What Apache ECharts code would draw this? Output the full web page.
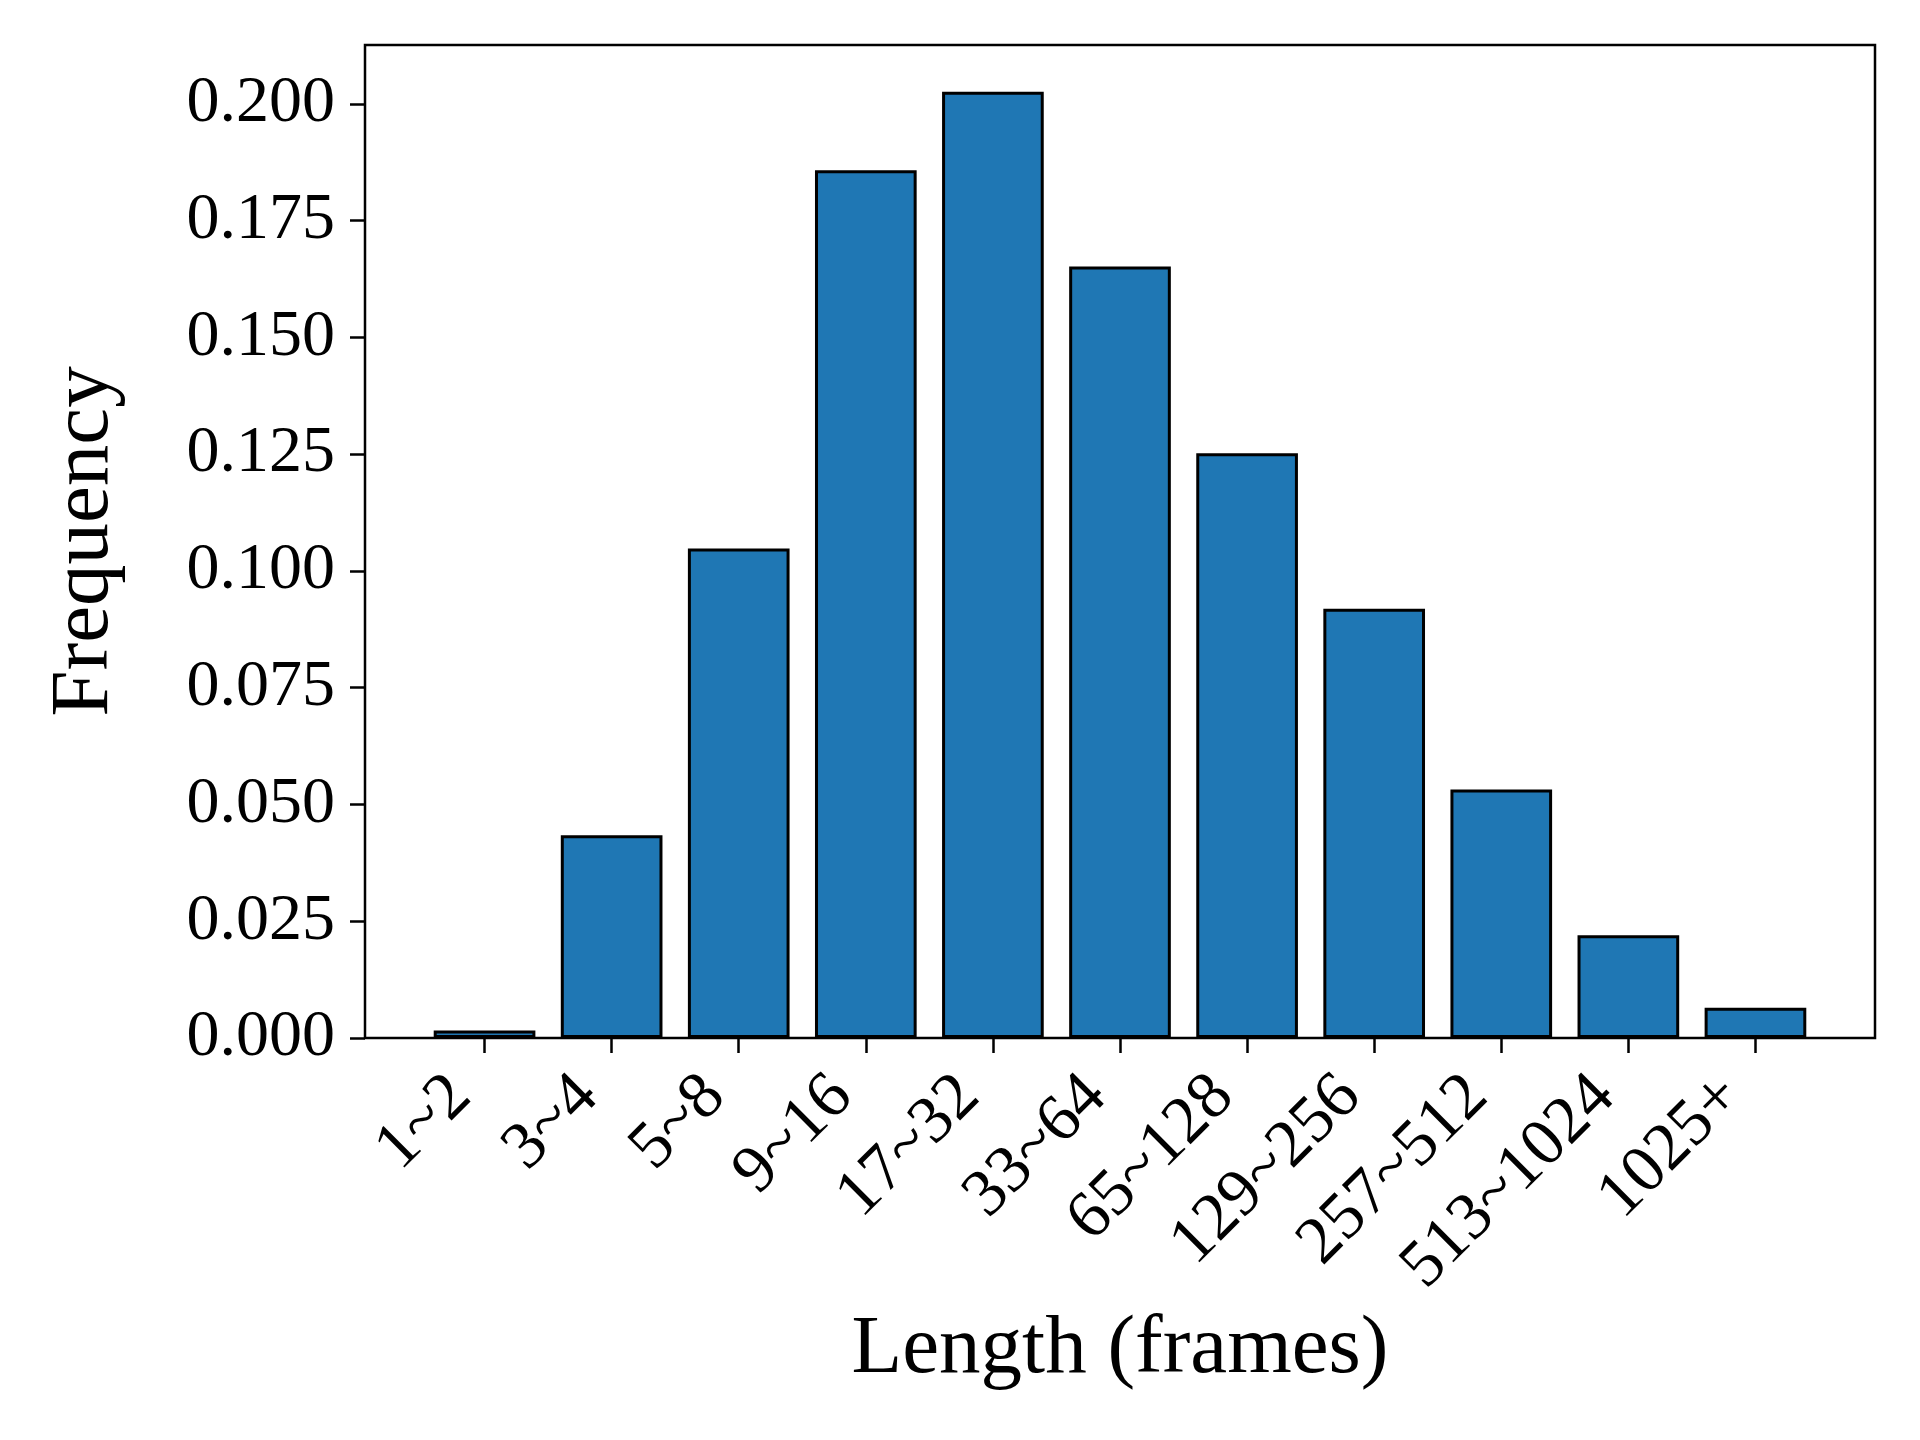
<!DOCTYPE html>
<html>
<head>
<meta charset="utf-8">
<script src="https://cdn.jsdelivr.net/npm/echarts@6/dist/echarts.min.js"></script>
<style>html,body{margin:0;padding:0;background:#fff}#c{width:1920px;height:1440px}</style>
</head>
<body>
<div id="c"></div>
<script>
const categories = ['1~2','3~4','5~8','9~16','17~32','33~64','65~128','129~256','257~512','513~1024','1025+'];
const frequency = [0.0016, 0.0434, 0.1048, 0.1858, 0.2026, 0.1652, 0.1252, 0.0919, 0.0532, 0.0220, 0.0065];
const yTicks = [0, 0.025, 0.05, 0.075, 0.1, 0.125, 0.15, 0.175, 0.2];
const yMax = 0.2126;

const FONT = 'Liberation Serif';
const chart = echarts.init(document.getElementById('c'), null, {renderer: 'canvas'});
chart.setOption({
  animation: false,
  backgroundColor: '#fff',
  grid: [
    {left: 421, right: 101, top: 45, bottom: 402, containLabel: false},
    {left: 365, right: 45, top: 45, bottom: 402, show: true, borderColor: '#000', borderWidth: 2.5, backgroundColor: 'transparent', z: 0}
  ],
  xAxis: [
    {
      type: 'category', gridIndex: 0, data: categories,
      name: 'Length (frames)', nameLocation: 'middle', nameGap: 268,
      nameTextStyle: {fontFamily: FONT, fontSize: 83, color: '#000'},
      axisLine: {show: false},
      axisTick: {show: true, alignWithLabel: true, length: 15, lineStyle: {color: '#000', width: 2.5}},
      axisLabel: {rotate: 45, fontFamily: FONT, fontSize: 67, color: '#000', margin: 72, align: 'right', verticalAlign: 'bottom', interval: 0},
      splitLine: {show: false}
    },
    {type: 'value', gridIndex: 1, show: false, min: 0, max: 1}
  ],
  yAxis: [
    {
      type: 'value', gridIndex: 0, min: 0, max: yMax, interval: 0.025, offset: 56,
      name: 'Frequency', nameLocation: 'middle', nameGap: 238, nameRotate: 90,
      nameTextStyle: {fontFamily: FONT, fontSize: 83, color: '#000'},
      axisLine: {show: false},
      axisTick: {show: true, length: 15, lineStyle: {color: '#000', width: 2.5}, customValues: yTicks},
      axisLabel: {fontFamily: FONT, fontSize: 66, color: '#000', margin: 30, customValues: yTicks, formatter: v => v.toFixed(3)},
      splitLine: {show: false}
    },
    {type: 'value', gridIndex: 1, show: false, min: 0, max: 1}
  ],
  series: [{
    type: 'bar', xAxisIndex: 0, yAxisIndex: 0,
    data: frequency,
    barWidth: '80%',
    itemStyle: {color: '#1f77b4', borderColor: '#000', borderWidth: 3},
    z: 2
  }]
});
</script>
</body>
</html>
